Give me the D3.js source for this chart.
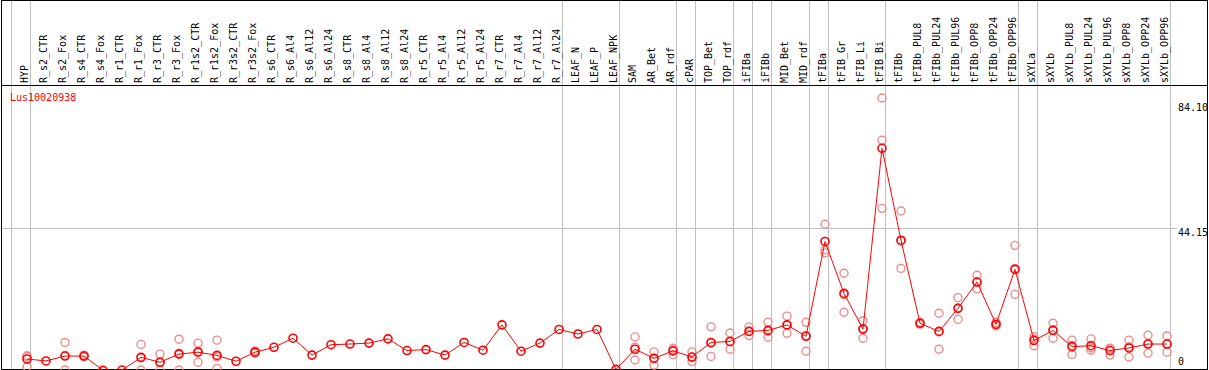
<!DOCTYPE html>
<html>
<head>
<meta charset="utf-8">
<script src="https://cdn.jsdelivr.net/npm/d3@7"></script>
<style>
    body { margin: 0; background: #fff; }
    svg text { font-family: "DejaVu Sans Mono", monospace; font-size: 10px; }
</style>
</head>
<body>
<div id="expr-graph"></div>
<script>

var geneName = "Lus10020938";

var samples = ["HYP", "R_s2_CTR", "R_s2_Fox", "R_s4_CTR", "R_s4_Fox", "R_r1_CTR", "R_r1_Fox", "R_r3_CTR",
    "R_r3_Fox", "R_r1s2_CTR", "R_r1s2_Fox", "R_r3s2_CTR", "R_r3s2_Fox", "R_s6_CTR", "R_s6_Al4", "R_s6_Al12",
    "R_s6_Al24", "R_s8_CTR", "R_s8_Al4", "R_s8_Al12", "R_s8_Al24", "R_r5_CTR", "R_r5_Al4", "R_r5_Al12",
    "R_r5_Al24", "R_r7_CTR", "R_r7_Al4", "R_r7_Al12", "R_r7_Al24", "LEAF_N", "LEAF_P", "LEAF_NPK", "SAM",
    "AR_Bet", "AR_rdf", "cPAR", "TOP_Bet", "TOP_rdf", "iFIBa", "iFIBb", "MID_Bet", "MID_rdf", "tFIBa",
    "tFIB_Gr", "tFIB_Li", "tFIB_Bi", "tFIBb", "tFIBb_PUL8", "tFIBb_PUL24", "tFIBb_PUL96", "tFIBb_OPP8",
    "tFIBb_OPP24", "tFIBb_OPP96", "sXYLa", "sXYLb", "sXYLb_PUL8", "sXYLb_PUL24", "sXYLb_PUL96",
    "sXYLb_OPP8", "sXYLb_OPP24", "sXYLb_OPP96"];

// mean expression per sample
var means = [3.7, 3.1, 4.6, 4.6, 0.2, 0.3, 4.2, 2.7,
    5.2, 5.8, 4.8, 3.0, 5.8, 7.3, 10.1, 4.9,
    8.1, 8.3, 8.6, 9.9, 6.3, 6.6, 4.9, 8.8,
    6.4, 14.2, 6.1, 8.6, 12.8, 11.4, 12.8, 0.5, 6.7,
    3.9, 6.2, 4.3, 8.8, 9.1, 12.2, 12.5, 14.2, 10.7, 39.9,
    23.9, 12.9, 68.6, 40.3, 14.7, 12.2, 19.3, 27.4,
    14.4, 31.3, 9.4, 12.5, 7.5, 7.8, 6.3,
    7.1, 8.3, 8.3];

// single replicates (empty where none show)
var replicates = [[4.7, 4.4, 1.3], [], [8.8, 4.8, 0.3], [4.9, 4.5, 4.4], [], [], [8.2, 4.1, 0.3], [5.2, 2.6, 0.3],
    [9.8, 5.5, 0.3], [8.6, 6.0, 2.7], [9.5, 4.3, 0.8], [], [6.2, 5.6, 5.5], [], [], [],
    [], [], [], [], [], [], [], [],
    [], [], [], [], [], [], [], [], [10.5, 7.3, 3.4],
    [5.9, 3.9, 1.8], [7.0, 6.4, 5.0], [5.9, 4.2, 2.9], [13.6, 8.5, 4.5], [11.7, 9.0, 6.7], [13.6, 12.2, 10.9],
    [15.0, 12.2, 10.4], [16.9, 14.1, 11.6], [15.0, 10.9, 6.1], [45.2, 37.3, 36.4],
    [30.1, 23.5, 18.1], [15.5, 13.1, 10.1], [84.10, 71.1, 50.1], [49.3, 40.0, 31.6], [15.0, 14.7, 14.4],
    [17.8, 12.1, 6.7], [22.6, 19.4, 15.9], [29.5, 27.4, 25.3],
    [15.0, 14.3, 13.9], [38.7, 31.6, 23.6], [10.6, 9.8, 7.8], [14.7, 12.7, 10.1], [9.5, 7.9, 5.1],
    [9.9, 7.1, 6.4], [7.0, 6.9, 4.9],
    [9.5, 7.5, 4.3], [11.0, 8.4, 5.5], [10.8, 8.3, 5.8]];

// samples that close a group (a separator is drawn right after them)
var groupEnds = ["HYP", "R_r7_Al24", "LEAF_NPK", "AR_rdf", "cPAR", "TOP_rdf", "iFIBa", "iFIBb",
    "MID_rdf", "tFIBa", "tFIB_Bi", "tFIBb_OPP96", "sXYLa", "sXYLb_OPP96"];

var yTicks = [0, 44.15, 84.10];


var graphWidth = 1209, graphHeight = 370;
var headerHeight = 85;
var plotRight = 1177;

var svg = d3.select("#expr-graph")
    .append("svg")
    .attr("width", graphWidth)
    .attr("height", graphHeight);

var x = d3.scalePoint()
    .domain(samples)
    .range([27, 1167]);

var y = d3.scaleLinear()
    .domain([0, d3.max(yTicks)])
    .range([371, 98]);

var sepOffset = x.step() / 2 - 6;

// column separators (one before the first sample too)
var sepX = [x(samples[0]) - x.step()].concat(groupEnds.map(function (s) { return x(s); }));
svg.append("g")
    .selectAll("line")
    .data(sepX)
    .enter().append("line")
    .attr("x1", function (d) { return d + sepOffset; })
    .attr("x2", function (d) { return d + sepOffset; })
    .attr("y1", 0)
    .attr("y2", graphHeight)
    .attr("stroke", "#c0c0c0")
    .attr("stroke-width", 1);

// horizontal grid at middle tick
svg.append("g")
    .selectAll("line")
    .data(yTicks.filter(function (d) { return d > 0 && d < d3.max(yTicks); }))
    .enter().append("line")
    .attr("x1", 2)
    .attr("x2", plotRight)
    .attr("y1", function (d) { return Math.round(y(d)) + 0.5; })
    .attr("y2", function (d) { return Math.round(y(d)) + 0.5; })
    .attr("stroke", "#c0c0c0");

// frame + header separator
svg.append("rect")
    .attr("x", 1.5).attr("y", 0.5)
    .attr("width", graphWidth - 3).attr("height", graphHeight - 1)
    .attr("fill", "none")
    .attr("stroke", "#000");

svg.append("line")
    .attr("x1", 1).attr("x2", graphWidth - 1)
    .attr("y1", headerHeight + 0.5).attr("y2", headerHeight + 0.5)
    .attr("stroke", "#000");

// sample names, rotated
svg.append("g")
    .selectAll("text")
    .data(samples)
    .enter().append("text")
    .attr("transform", function (d) { return "translate(" + (x(d) + 1) + "," + (headerHeight - 2) + ") rotate(-90)"; })
    .attr("fill", "#000")
    .text(function (d) { return d; });

// gene label
svg.append("text")
    .attr("x", 10)
    .attr("y", 101)
    .attr("fill", "#ff0000")
    .text(geneName);

// right axis labels
svg.append("g")
    .selectAll("text")
    .data(yTicks)
    .enter().append("text")
    .attr("x", plotRight + 1)
    .attr("y", function (d) { return Math.max(Math.min(y(d) + 8.5, graphHeight - 5), y(d3.max(yTicks)) + 12.5); })
    .attr("fill", "#000")
    .text(function (d) { return d === 0 ? "0" : d.toFixed(2); });

// replicate dots
var repPoints = [];
replicates.forEach(function (reps, i) {
    reps.forEach(function (v) { repPoints.push({s: samples[i], v: v}); });
});

svg.append("g")
    .selectAll("circle")
    .data(repPoints)
    .enter().append("circle")
    .attr("cx", function (d) { return x(d.s); })
    .attr("cy", function (d) { return y(d.v); })
    .attr("r", 4)
    .attr("fill", "none")
    .attr("stroke", "#ee8c8c")
    .attr("stroke-width", 1.4);

// mean line
var line = d3.line()
    .x(function (d, i) { return x(samples[i]); })
    .y(function (d) { return y(d); });

svg.append("path")
    .datum(means)
    .attr("d", line)
    .attr("fill", "none")
    .attr("stroke", "#ff0000")
    .attr("stroke-width", 1);

svg.append("g")
    .selectAll("circle")
    .data(means)
    .enter().append("circle")
    .attr("cx", function (d, i) { return x(samples[i]); })
    .attr("cy", function (d) { return y(d); })
    .attr("r", 4)
    .attr("fill", "none")
    .attr("stroke", "#ff0000")
    .attr("stroke-width", 1.6);

</script>
</body>
</html>
